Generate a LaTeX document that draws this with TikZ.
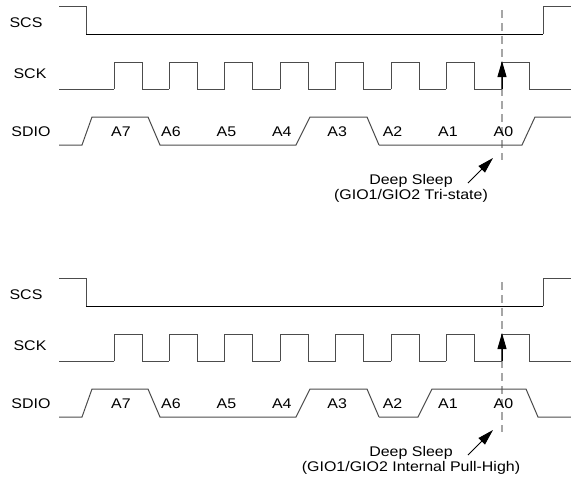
\documentclass[tikz,border=0pt]{standalone}
\usepackage{fontspec}
\setmainfont[FakeStretch=1.14]{Liberation Sans}
\usetikzlibrary{arrows.meta}

\tikzset{
	wave/.style={draw=black!70, line width=1pt},
	sig/.style={inner sep=0pt, font=\fontsize{14}{15}\selectfont},
	marker/.style={draw=black!35, line width=1.2pt, dash pattern=on 8pt off 5pt},
	tip/.style={-{Triangle[length=16pt,width=9pt]}, line width=1pt}
}

\begin{document}
\begin{tikzpicture}[x=1pt,y=-1pt]
		
			\useasboundingbox (0,0) rectangle (571,480);
			
			\foreach \d/\n/\txt in {0/1/Tri-state,272/2/Internal Pull-High} {
			\begin{scope}[yshift=-\d pt]
			
				\draw[marker] (502,10) -- (502,160);
				
				\node[sig] (scs\n) at (26,23) {SCS};
				\node[sig] (sck\n) at (30,74) {SCK};
				\node[sig] (sdio\n) at (31,132) {SDIO};
				
				\draw[wave] (59,6) -- (86,6) -- (86,34);
				\draw[line width=1pt] (86,34) -- (543,34);
				\draw[wave] (543,34) -- (543,6) -- (571,6);
				
				\draw[wave] (59,89) -- (114,89);
				\foreach \k in {0,...,7} {
					\pgfmathsetmacro\r{114+55.4*\k}
					\draw[wave] (\r,89) -- (\r,62) -- (\r+28,62) -- (\r+28,89) -- (\r+55.4,89);
				}
				\draw[wave] (529,89) -- (571,89);
				
				\draw[wave] (59,145) -- (82,145) -- (92,117) -- (148,117) -- (160,145) -- (296,145) -- (310,117) -- (367,117) -- (379,145);
				
				\node[sig] (a7\n) at (121,132) {A7};
				\foreach \k in {0,...,6} {
					\pgfmathtruncatemacro\b{6-\k}
					\node[sig] (a\b\n) at ({171+55.4*\k},132) {A\b};
				}
				
				\coordinate (edge\n) at (502,89);
				\coordinate (top\n) at (502,61);
				\draw[tip] (edge\n) -- (top\n);
				
				% anchor base sits on the last line
				\node[sig, align=center, anchor=base] (sleep\n) at (411,199.5) {Deep Sleep\\(GIO1/GIO2 \txt)};
				\coordinate (from\n) at (468,183);
				\coordinate (to\n) at (493,158);
				\draw[tip] (from\n) -- (to\n);
			
			\end{scope}
			}
			
			\draw[wave] (379,145) -- (522,145) -- (535,117) -- (571,117);
			\draw[wave] (379,417) -- (418,417) -- (432,389) -- (526,389) -- (538,417) -- (571,417);
		
\end{tikzpicture}
\end{document}
